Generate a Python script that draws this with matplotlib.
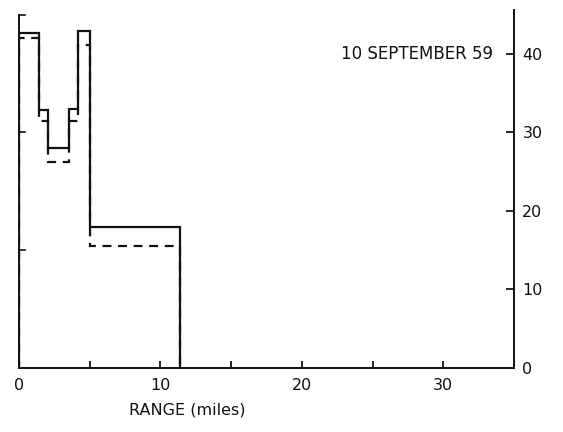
import matplotlib as mpl
from matplotlib import pyplot as plt

mpl.rcParams['font.family'] = "DejaVu Sans"

# step edges along range (miles) and the two profiles
edges = [0, 1.4, 2.05, 3.5, 4.2, 5.05, 11.4]
solid_vals = [42.7, 32.8, 28.0, 33.0, 42.9, 17.9]
dashed_vals = [42.0, 31.4, 26.2, 31.4, 41.2, 15.5]

x_major = [0, 10, 20, 30]
x_minor = [5, 15, 25]
right_ticks = [0, 10, 20, 30, 40]
left_ticks = [15, 30, 45]


def main():
    fig = plt.figure(figsize=(5.63, 4.32), dpi=100)
    ax = fig.add_axes([19 / 563, 1 - 368 / 432, 495 / 563, 358 / 432])

    ax.stairs(solid_vals, edges, baseline=0, color="#111111", lw=1.6)
    ax.stairs(dashed_vals, edges, baseline=0, color="#111111", lw=1.6,
              linestyle=(0, (4, 3)))

    ax.set_xlim(0, 35)
    ax.set_ylim(0, 45.6)

    ax.spines['top'].set_visible(False)
    ax.spines['left'].set_bounds(0, 45)
    for s in ax.spines.values():
        s.set_linewidth(1.4)
        s.set_color("#111111")

    ax.set_xticks(x_major)
    ax.set_xticks(x_minor, minor=True)
    ax.tick_params(axis='x', which='both', direction='in', length=5,
                   width=1.2, pad=7, labelsize=11.5, labelcolor="#111111")

    # right axis carries the scale
    ax.yaxis.tick_right()
    ax.set_yticks(right_ticks)
    ax.tick_params(axis='y', direction='in', length=6, width=1.2,
                   pad=6, labelsize=11.5, labelcolor="#111111")

    # unlabelled inward ticks on the left edge
    for v in left_ticks:
        ax.plot([0, 0.45], [v, v], color="#111111", lw=1.2, clip_on=False)

    ax.text(33.5, 40, "10 SEPTEMBER 59", ha="right", va="center",
            fontsize=12, color="#111111")
    fig.text(187 / 563, 1 - 410 / 432, "RANGE (miles)", ha="center",
             va="center", fontsize=11.5, color="#111111")

    fig.savefig("out.png", dpi=100)


if __name__ == "__main__":
    main()
